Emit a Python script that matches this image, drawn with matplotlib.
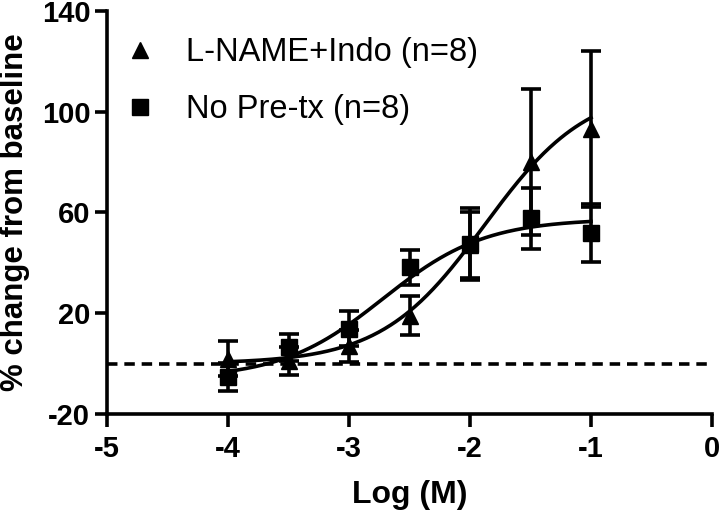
import numpy as np
import matplotlib
matplotlib.use("Agg")
import matplotlib.pyplot as plt
from matplotlib.lines import Line2D

# ---- data ----
log_conc = [-4.0, -3.5, -3.0, -2.5, -2.0, -1.5, -1.0]

lname_mean = [2.0, 1.0, 7.0, 19.0, 47.0, 80.0, 93.0]
lname_sem = [7.0, 5.5, 6.5, 7.7, 13.0, 29.0, 31.0]

nopre_mean = [-5.3, 6.5, 13.8, 38.2, 47.4, 57.7, 52.0]
nopre_sem = [5.7, 5.3, 7.0, 7.0, 14.3, 12.2, 11.5]

# sigmoidal dose-response fit parameters: bottom, top, logEC50, hill slope
lname_fit = [0.0, 110.0, -1.88, 1.02]
nopre_fit = [-6.0, 57.5, -2.72, 1.03]

labels = ["L-NAME+Indo (n=8)", "No Pre-tx (n=8)"]
xticks = [-5, -4, -3, -2, -1, 0]
yticks = [-20, 20, 60, 100, 140]


def sigmoid(x, p):
    b, t, c, h = p
    return b + (t - b) / (1.0 + 10.0 ** ((c - x) * h))


plt.rcParams['font.family'] = ['Liberation Sans', 'DejaVu Sans']
plt.rcParams['axes.unicode_minus'] = False

fig = plt.figure(figsize=(7.2, 5.13), dpi=100)
ax = fig.add_axes([107 / 720, 1 - 414 / 513, 605 / 720, 403 / 513])

lw = 2.6
ax.axhline(0, color='black', lw=lw, ls=(0, (2.9, 1.9)), zorder=1)

xs = np.linspace(min(log_conc), max(log_conc), 300)
ax.plot(xs, sigmoid(xs, lname_fit), color='black', lw=lw, zorder=2)
ax.plot(xs, sigmoid(xs, nopre_fit), color='black', lw=lw, zorder=2)

ax.errorbar(log_conc, lname_mean, yerr=lname_sem, fmt='^', color='black',
            ms=12, elinewidth=lw, capsize=7, capthick=lw, zorder=3)
ax.errorbar(log_conc, nopre_mean, yerr=nopre_sem, fmt='s', color='black',
            ms=11, elinewidth=lw, capsize=7, capthick=lw, zorder=4)

ax.set_xlim(-5, 0)
ax.set_ylim(-20, 140)
ax.set_xticks(xticks)
ax.set_yticks(yticks)
ax.set_xticklabels([str(t) for t in xticks])
ax.set_yticklabels([str(t) for t in yticks])

for s in ['top', 'right']:
    ax.spines[s].set_visible(False)
for s in ['left', 'bottom']:
    ax.spines[s].set_linewidth(lw)
    ax.spines[s].set_capstyle('projecting')

ax.tick_params(axis='both', length=9, width=lw, direction='out',
               labelsize=21)
ax.tick_params(axis='x', pad=6)
ax.tick_params(axis='y', pad=3)
for lab in ax.get_xticklabels() + ax.get_yticklabels():
    lab.set_fontweight('bold')

ax.set_xlabel("Log (M)", fontsize=23, fontweight='bold', labelpad=12)
ax.set_ylabel("% change from baseline", fontsize=22.5, fontweight='bold')
ax.yaxis.set_label_coords(-0.127, 0.5)

handles = [Line2D([], [], marker='^', color='black', ls='none', ms=12),
           Line2D([], [], marker='s', color='black', ls='none', ms=11)]
ax.legend(handles, labels, loc='upper left', bbox_to_anchor=(0.033, 0.935),
          frameon=False, fontsize=23.5, handlelength=0.8, handletextpad=1.0,
          labelspacing=0.8, borderpad=0, borderaxespad=0, numpoints=1)

fig.savefig("out.png", dpi=100)
